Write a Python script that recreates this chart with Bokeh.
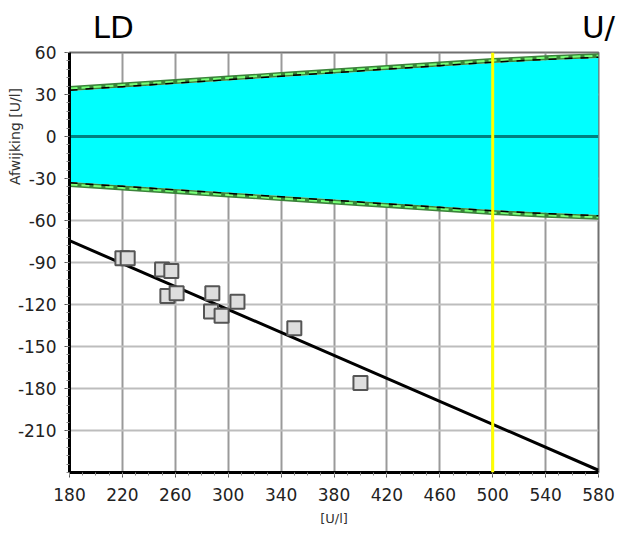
import numpy as np
from bokeh.plotting import figure
from bokeh.models import (FixedTicker, Range1d, Span, ColumnDataSource, LinearAxis,
                          PrintfTickFormatter)
from bokeh.embed import file_html
from bokeh.resources import INLINE

# ---- data ----
x_meas = [220, 224, 250, 257, 254, 261, 288, 287, 295, 307, 350, 400]
y_dev = [-87, -87, -95, -96, -114, -112, -112, -125, -128, -118, -137, -176]

band_x = [180, 220, 260, 300, 340, 380, 420, 460, 500, 540, 580]
band_inner = [32.5, 35, 37.5, 40, 42.5, 45, 47.5, 50, 52.5, 54.5, 56]
band_outer = [36, 38.5, 41, 43.5, 46, 48.5, 51, 53.5, 56, 58, 59.5]

reg_intercept = -0.6
reg_slope = -0.41

target_x = 500

x_ticks = [180, 220, 260, 300, 340, 380, 420, 460, 500, 540, 580]
y_ticks = [-210, -180, -150, -120, -90, -60, -30, 0, 30, 60]
x_lim = (180, 580)
y_lim = (-240, 60)

title_left = "LD"
title_right = "U/"
y_label = "Afwijking [U/l]"
x_label = "[U/l]"

FONT = "DejaVu Sans"

p = figure(width=620, height=533, output_backend="svg", toolbar_location=None,
           x_range=Range1d(*x_lim), y_range=Range1d(*y_lim),
           min_border_left=69, min_border_right=22, min_border_top=52, min_border_bottom=61)
p.background_fill_color = "white"
p.border_fill_color = "white"
p.outline_line_color = "#707070"
p.outline_line_width = 2

# grid
p.xgrid.ticker = FixedTicker(ticks=x_ticks)
p.ygrid.ticker = FixedTicker(ticks=y_ticks)
p.xgrid.grid_line_color = "#9a9a9a"
p.xgrid.grid_line_width = 2
p.ygrid.grid_line_color = "#bdbdbd"
p.ygrid.grid_line_width = 2

# axes
x_minor = list(range(x_lim[0], x_lim[1] + 1, 10))
y_minor = list(range(y_lim[0], y_lim[1] + 1, 6))
p.xaxis.ticker = FixedTicker(ticks=x_ticks, minor_ticks=x_minor)
p.yaxis.ticker = FixedTicker(ticks=y_ticks, minor_ticks=y_minor)
p.yaxis.formatter = PrintfTickFormatter(format="%d")
for ax in (p.xaxis[0], p.yaxis[0]):
    ax.axis_line_color = "black"
    ax.axis_line_width = 3
    ax.major_tick_line_color = "#555555"
    ax.major_tick_line_width = 1
    ax.major_tick_out = 5
    ax.major_tick_in = 0
    ax.minor_tick_line_color = "#888888"
    ax.minor_tick_out = 3
    ax.minor_tick_in = 0
    ax.major_label_text_font = FONT
    ax.major_label_text_font_size = "17px"
    ax.major_label_text_color = "#222222"
p.xaxis.major_label_standoff = 10
p.yaxis.major_label_standoff = 8
p.xaxis.axis_label = x_label
p.xaxis.axis_label_text_font = FONT
p.xaxis.axis_label_text_font_size = "13px"
p.xaxis.axis_label_text_font_style = "normal"
p.xaxis.axis_label_text_color = "#333333"
p.xaxis.axis_label_standoff = 7

# y label as a tick label of an extra left axis placed at y = 0
ylab_axis = LinearAxis(ticker=FixedTicker(ticks=[0]),
                       major_label_overrides={0: y_label},
                       major_label_orientation="vertical",
                       axis_line_color=None, major_tick_line_color=None,
                       minor_tick_line_color=None, major_tick_out=0, major_tick_in=0,
                       minor_tick_out=0, minor_tick_in=0, major_label_standoff=-8,
                       major_label_text_font=FONT, major_label_text_font_size="14px",
                       major_label_text_color="#333333")
p.add_layout(ylab_axis, "left")

# titles as tick labels of an extra top axis
p.extra_x_ranges = {"title": Range1d(0, 1)}
title_axis = LinearAxis(x_range_name="title",
                        ticker=FixedTicker(ticks=[0.083, 1.0]),
                        major_label_overrides={0.083: title_left, 1.0: title_right},
                        axis_line_color=None, major_tick_line_color=None,
                        minor_tick_line_color=None, major_tick_out=0, major_tick_in=0,
                        minor_tick_out=0, minor_tick_in=0, major_label_standoff=8,
                        major_label_text_font=FONT, major_label_text_font_size="31px",
                        major_label_text_color="black")
p.add_layout(title_axis, "above")

# band
bx = np.array(band_x, dtype=float)
bi = np.array(band_inner)
bo = np.array(band_outer)
p.varea(x=bx, y1=-bi, y2=bi, fill_color="#00ffff")
p.varea(x=bx, y1=bi, y2=bo, fill_color="#3a843a")
p.varea(x=bx, y1=-bo, y2=-bi, fill_color="#3a843a")
mid = (bi + bo) / 2
p.line(bx, mid, line_color="#77ff77", line_width=2, line_dash="8 4")
p.line(bx, -mid, line_color="#77ff77", line_width=2, line_dash="8 4")
p.line(bx, bi + 0.6, line_color="black", line_width=1.5, line_dash="8 8")
p.line(bx, -bi - 0.6, line_color="black", line_width=1.5, line_dash="8 8")

# zero line
p.line(x=list(x_lim), y=[0, 0], line_color="#008080", line_width=3)

# target line
p.add_layout(Span(location=target_x, dimension="height", line_color="#ffff00", line_width=3))

# regression line
rx = np.array(x_lim, dtype=float)
p.line(rx, reg_intercept + reg_slope * rx, line_color="black", line_width=3)

# points
src = ColumnDataSource(dict(x=x_meas, y=y_dev))
p.scatter("x", "y", source=src, marker="square", size=14,
          fill_color="#dedede", line_color="#555555", line_width=2)

open("out.html", "w").write(file_html(p, INLINE))
